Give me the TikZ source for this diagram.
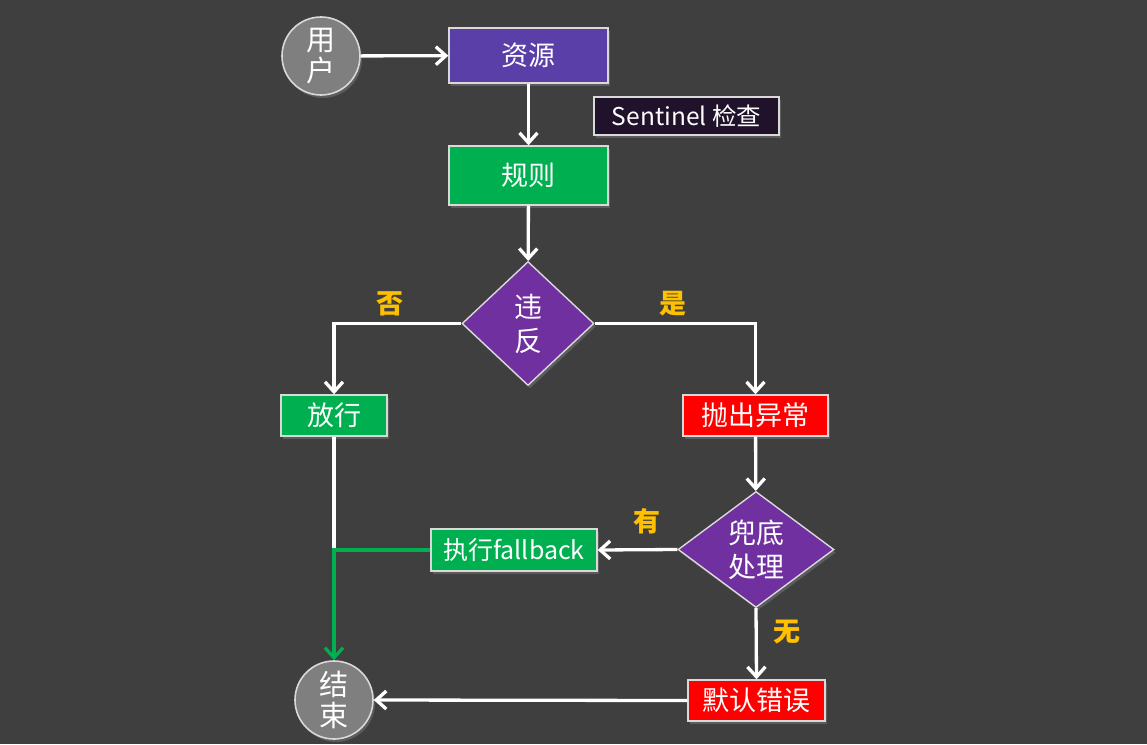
\documentclass[tikz,border=0pt]{standalone}
\usepackage{fontspec}
\setmainfont{Noto Sans CJK SC}
\usetikzlibrary{arrows.meta,shapes.geometric,shadows}

\definecolor{bg}{HTML}{3F3F3F}
\definecolor{resblue}{HTML}{5B3FA8}
\definecolor{dpurple}{HTML}{7030A0}
\definecolor{okgreen}{HTML}{00B050}
\definecolor{errred}{HTML}{FF0000}
\definecolor{lbl}{HTML}{FFC000}
\definecolor{termgray}{HTML}{7F7F7F}
\definecolor{notebg}{HTML}{20122A}

\tikzset{
  shade/.style={drop shadow={opacity=0.45,shadow xshift=2pt,shadow yshift=-3pt}},
  proc/.style={draw=white!85!black, line width=1.4pt, text=white, font=\fontsize{27}{30}\selectfont,
    inner sep=0pt, shade},
  term/.style={circle, draw=white!85!black, line width=1.6pt, fill=termgray, text=white,
    minimum size=78pt, inner sep=0pt, align=center, font=\fontsize{29}{31}\selectfont, shade},
  decide/.style={diamond, draw=white!85!black, line width=1.4pt, fill=dpurple, text=white,
    inner sep=0pt, align=center, font=\fontsize{28}{34}\selectfont, shade},
  arr/.style={draw=white, line width=3.3pt, -{Straight Barb[length=10pt,width=18pt,line width=3.3pt]}},
  wire/.style={draw=white, line width=3.3pt},
  tag/.style={text=lbl, font=\fontsize{27}{29}\selectfont\bfseries},
}

\begin{document}
\begin{tikzpicture}[x=1pt,y=-1pt]
  \useasboundingbox (0,0) rectangle (1147,744);
  \fill[bg] (0,0) rectangle (1147,744);

  % nodes
  \node[term] (user) at (321,56) {用\\户};
  \node[proc, fill=resblue, minimum width=159pt, minimum height=55pt] (res) at (528.5,55.5) {资源};
  \node[proc, fill=notebg, minimum width=185pt, minimum height=38pt, font=\fontsize{24.5}{28}\selectfont] (note) at (686.5,116) {Sentinel 检查};
  \node[proc, fill=okgreen, minimum width=159pt, minimum height=59pt] (rule) at (528.5,175.5) {规则};
  \node[decide, minimum width=132pt, minimum height=124pt] (viol) at (528,323.5) {违\\反};
  \node[proc, fill=okgreen, minimum width=106pt, minimum height=41pt] (pass) at (334,415.5) {放行};
  \node[proc, fill=errred, minimum width=145pt, minimum height=41pt] (throw) at (755.5,415.5) {抛出异常};
  \node[decide, minimum width=156pt, minimum height=116pt] (fb) at (756,549.5) {兜底\\处理};
  \node[proc, fill=okgreen, minimum width=166pt, minimum height=42pt, font=\fontsize{25}{28}\selectfont] (exec) at (514,550) {执行fallback};
  \node[proc, fill=errred, minimum width=137pt, minimum height=41pt] (deferr) at (756.5,700.5) {默认错误};
  \node[term] (end) at (334,700) {结\\束};

  % branch labels
  \node[tag] (lno) at (390,304) {否};
  \node[tag] (lyes) at (673,304) {是};
  \node[tag] (lhas) at (647,521) {有};
  \node[tag] (lnone) at (787,632) {无};

  % connectors
  \draw[arr] (user) -- (res);
  \draw[arr] (res) -- (rule);
  \draw[arr] (rule) -- (viol);
  \draw[arr] (viol.west) -| (pass);
  \draw[arr] (viol.east) -| (throw);
  \draw[arr] (throw) -- (fb);
  \draw[arr] (fb.west) -- (exec.east);
  \draw[arr] (fb.south) -- (deferr.north);
  \draw[arr] (deferr.west) -- (end.east);
  \draw[wire] (pass.south) -- (pass.south |- exec.west);
  \draw[arr, draw=okgreen] (exec.west) -| (end.north);
\end{tikzpicture}
\end{document}
